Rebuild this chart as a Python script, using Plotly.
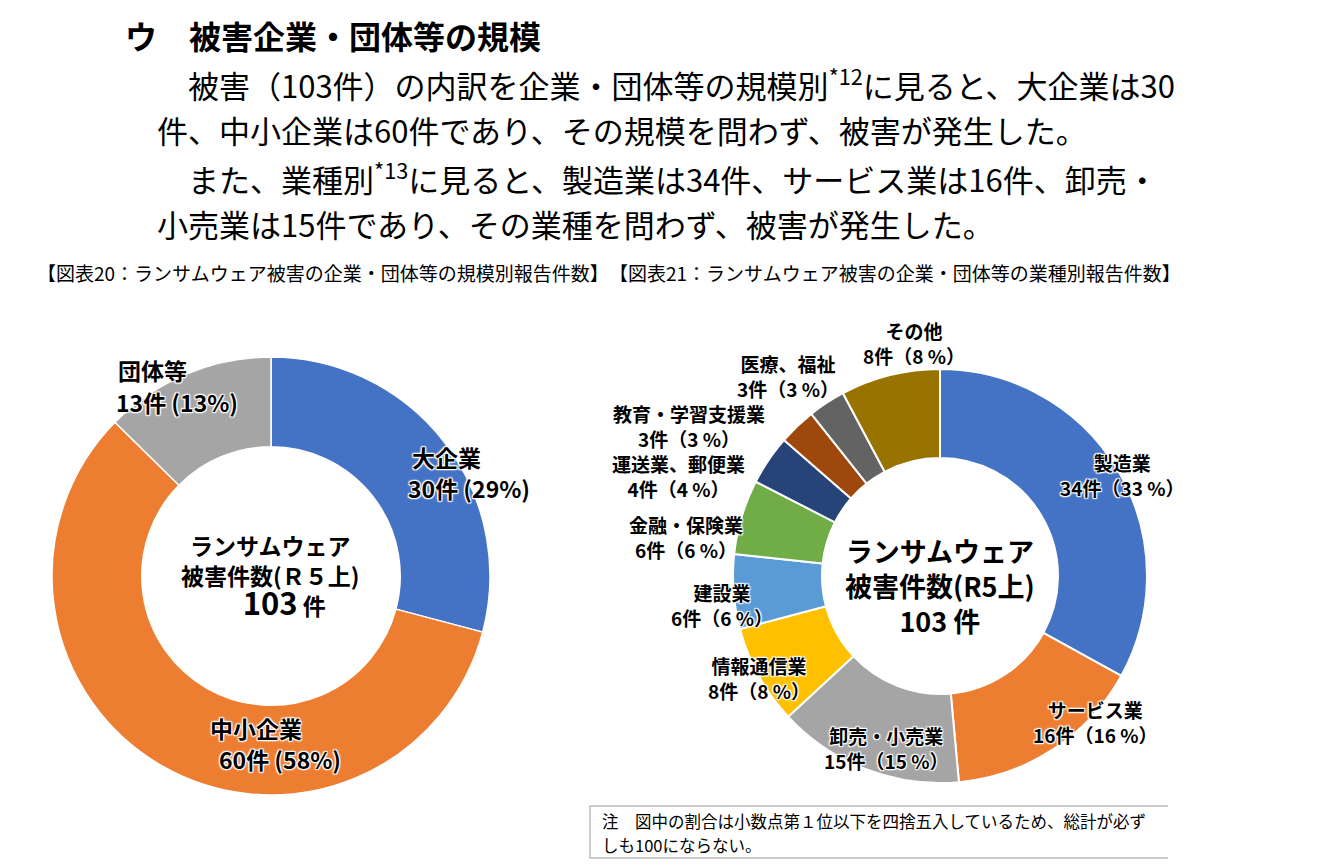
import plotly.graph_objects as go

# ---------------- data ----------------
size_labels = ["大企業", "中小企業", "団体等"]
size_counts = [30, 60, 13]
size_colors = ["#4472C4", "#ED7D31", "#A5A5A5"]

ind_labels = ["製造業", "サービス業", "卸売・小売業", "情報通信業", "建設業",
              "金融・保険業", "運送業、郵便業", "教育・学習支援業", "医療、福祉", "その他"]
ind_counts = [34, 16, 15, 8, 6, 6, 4, 3, 3, 8]
ind_colors = ["#4472C4", "#ED7D31", "#A5A5A5", "#FFC000", "#5B9BD5",
              "#70AD47", "#264478", "#9E480E", "#636363", "#997300"]

total = sum(size_counts)

heading = "ウ　被害企業・団体等の規模"
body_lines = [
    "被害（103件）の内訳を企業・団体等の規模別<sup>*12</sup>に見ると、大企業は30",
    "件、中小企業は60件であり、その規模を問わず、被害が発生した。",
    "また、業種別<sup>*13</sup>に見ると、製造業は34件、サービス業は16件、卸売・",
    "小売業は15件であり、その業種を問わず、被害が発生した。",
]
caption_left = "【図表20：ランサムウェア被害の企業・団体等の規模別報告件数】"
caption_right = "【図表21：ランサムウェア被害の企業・団体等の業種別報告件数】"
note_lines = [
    "注　図中の割合は小数点第１位以下を四捨五入しているため、総計が必ず",
    "しも100にならない。",
]

# ---------------- layout helpers ----------------
OFF = 8                      # page body margin of the browser
W, H = 1318 - OFF, 868 - OFF
def px(x):
    return (x - OFF) / W
def py(y):
    return 1 - (y - OFF) / H

FONT = "Noto Sans CJK JP"
halo = ("white 1px 1px 1px, white -1px -1px 1px, white 1px -1px 1px, "
        "white -1px 1px 1px, white 0 0 3px")

fig = go.Figure()

# left donut: centre (271,576) r=219
fig.add_trace(go.Pie(
    labels=size_labels, values=size_counts, sort=False, direction="clockwise",
    rotation=0, hole=0.59, textinfo="none", hoverinfo="label+value",
    marker=dict(colors=size_colors, line=dict(color="white", width=1.5)),
    domain=dict(x=[px(52), px(490)], y=[py(795), py(357)]),
    showlegend=False,
))
# right donut: centre (940,576) r=207
fig.add_trace(go.Pie(
    labels=ind_labels, values=ind_counts, sort=False, direction="clockwise",
    rotation=0, hole=0.57, textinfo="none", hoverinfo="label+value",
    marker=dict(colors=ind_colors, line=dict(color="white", width=2)),
    domain=dict(x=[px(733), px(1147)], y=[py(783), py(369)]),
    showlegend=False,
))

ann = []
def text(x, y, s, size, weight="normal", anchor="center", shadow=None,
         color="black", align="center"):
    f = dict(family=FONT, size=size, color=color, weight=weight)
    if shadow:
        f["shadow"] = shadow
    ann.append(dict(x=px(x), y=py(y), xref="paper", yref="paper", text=s,
                    showarrow=False, xanchor=anchor, yanchor="middle",
                    font=f, align=align))

# heading and body
text(123, 35, heading, 32, weight="bold", anchor="left")
body_pos = [(186, 83), (155, 130), (186, 177), (155, 223)]
for (bx, by), line in zip(body_pos, body_lines):
    text(bx, by, line, 31, anchor="left", align="left")

text(35, 272, caption_left, 19, anchor="left")
text(607, 272, caption_right, 19, anchor="left")

# left labels (name line / count line)
left_pos = [((446, 457), (469, 488)), ((256, 728), (280, 759)), ((152, 370), (177, 402))]
for name, cnt, ((nx, ny), (cx, cy)) in zip(size_labels, size_counts, left_pos):
    pct = round(cnt / total * 100)
    text(nx, ny, name, 23, weight="bold", shadow=halo)
    text(cx, cy, f"{cnt}件 ({pct}%)", 23, weight="bold", shadow=halo)

# right labels
right_pos = [(1122, 475), (1095, 722), (886, 748), (759, 678), (722, 605),
             (686, 537), (678, 476), (689, 426), (788, 376), (914, 343)]
for name, cnt, (lx, ly) in zip(ind_labels, ind_counts, right_pos):
    pct = round(cnt / total * 100)
    text(lx, ly, f"{name}<br>{cnt}件（{pct} %）", 19, weight="bold", shadow=halo)

# centre texts
nb = "\u00a0" * 4
text(270, 576,
     f"ランサムウェア<br>被害件数(Ｒ５上)<br><span style='font-size:31px'>{nb}{total}</span> 件",
     23, weight="bold")
text(940, 585, f"ランサムウェア<br>被害件数(R5上)<br>{total} 件", 27, weight="bold")

# note
text(600, 821, note_lines[0], 16.5, anchor="left")
text(600, 845, note_lines[1], 16.5, anchor="left")

shapes = [dict(type="path", xref="paper", yref="paper",
               path=f"M {px(1168)},{py(806)} L {px(590)},{py(806)} L {px(590)},{py(858)} L {px(1168)},{py(858)}",
               line=dict(color="#BDBDBD", width=1.5))]

fig.update_layout(
    width=W, height=H, margin=dict(l=0, r=0, t=0, b=0),
    paper_bgcolor="white", plot_bgcolor="white",
    annotations=ann, shapes=shapes,
    font=dict(family=FONT),
)

fig.write_html("out.html")
